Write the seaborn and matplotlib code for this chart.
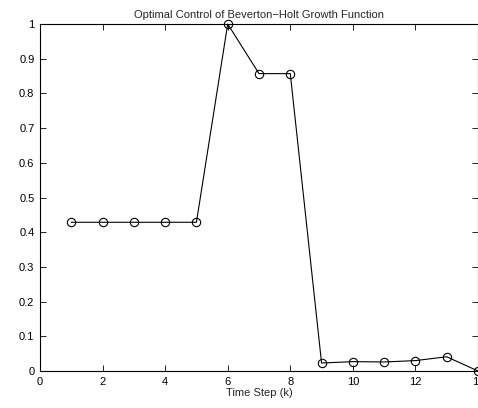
import matplotlib
matplotlib.use("Agg")
import matplotlib.pyplot as plt
import seaborn as sns
import pandas as pd
import numpy as np

steps = [1, 2, 3, 4, 5, 6, 7, 8, 9, 10, 11, 12, 13, 14]
control = [0.4286, 0.4286, 0.4286, 0.4286, 0.4286, 1.0, 0.857, 0.857,
           0.023, 0.027, 0.026, 0.030, 0.041, 0.0]
xticks = [0, 2, 4, 6, 8, 10, 12, 14]
yticks = [0, 0.1, 0.2, 0.3, 0.4, 0.5, 0.6, 0.7, 0.8, 0.9, 1.0]
ytick_labels = ["0", "0.1", "0.2", "0.3", "0.4", "0.5", "0.6", "0.7", "0.8", "0.9", "1"]

df = pd.DataFrame({"k": steps, "u": control})

sns.set_style("white")
plt.rcParams['font.family'] = ['Liberation Sans', 'DejaVu Sans']

fig = plt.figure(figsize=(4.78, 4.08), dpi=100)
ax = fig.add_axes([40/478, 1 - 371/408, 1 - 40/478, (371 - 24)/408])

sns.lineplot(data=df, x="k", y="u", ax=ax, color="black", linewidth=0.8,
             marker="o", markersize=6, markerfacecolor="none",
             markeredgecolor="black", markeredgewidth=0.8, clip_on=False)

ax.set_xlim(0, 14)
ax.set_ylim(0, 1)
ax.set_xticks(xticks)
ax.set_xticklabels([str(t) for t in xticks])
ax.set_yticks(yticks)
ax.set_yticklabels(ytick_labels)
ax.tick_params(direction="in", length=4, width=0.6, labelsize=8, colors="black",
               top=True, right=True, bottom=True, left=True, pad=4)
for s in ax.spines.values():
    s.set_visible(True)
    s.set_color("black")
    s.set_linewidth(0.8)
ax.set_xlabel("Time Step (k)", fontsize=8, labelpad=1)
ax.set_ylabel("")
ax.set_title("Optimal Control of Beverton\u2212Holt Growth Function", fontsize=8, pad=4)

fig.savefig("out.png", dpi=100)
